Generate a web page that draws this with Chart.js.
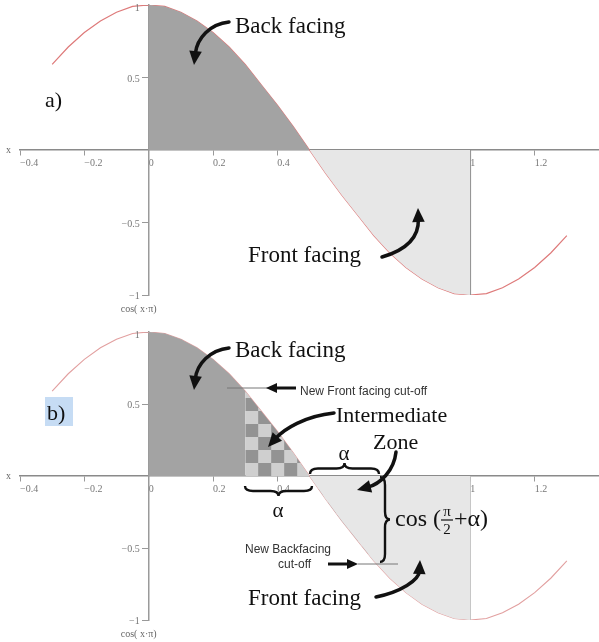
<!DOCTYPE html>
<html>
<head>
<meta charset="utf-8">
<script src="https://cdn.jsdelivr.net/npm/chart.js@4/dist/chart.umd.min.js"></script>
<style>
  body { margin: 0; background: #fff; }
  .panel { width: 599px; height: 321px; position: relative; }
</style>
</head>
<body>
<div class="panel"><canvas id="chart-a" width="599" height="321"></canvas></div>
<div class="panel"><canvas id="chart-b" width="599" height="321"></canvas></div>
<script>
// curve cos(x*pi)
const xValues = [-0.30, -0.25, -0.20, -0.15, -0.10, -0.05, 0.00, 0.05, 0.10, 0.15, 0.20,
  0.25, 0.30, 0.35, 0.40, 0.45, 0.50, 0.55, 0.60, 0.65, 0.70, 0.75, 0.80, 0.85, 0.90,
  0.95, 1.00, 1.05, 1.10, 1.15, 1.20, 1.25, 1.30];
const cosValues = [0.59, 0.71, 0.81, 0.89, 0.95, 0.99, 1.00, 0.99, 0.95, 0.89, 0.81,
  0.71, 0.59, 0.45, 0.31, 0.16, 0.00, -0.16, -0.31, -0.45, -0.59, -0.71, -0.81, -0.89, -0.95,
  -0.99, -1.00, -0.99, -0.95, -0.89, -0.81, -0.71, -0.59];

const xTicks = [-0.4, -0.2, 0, 0.2, 0.4, 0.6, 0.8, 1, 1.2];
const yTicks = [-1, -0.5, 0.5, 1];

// shaded x ranges
const backA = [0, 0.5];
const frontA = [0.5, 1];
const backB = [0, 0.3];
const frontB = [0.5, 1];
const zoneB = [0.3, 0.7];
const edgeLine = [{ x: 1, y: 0 }, { x: 1, y: -1 }];

const serif = '"Liberation Serif", "DejaVu Serif", serif';
const sans = '"Liberation Sans", Arial, sans-serif';

function pointsIn(range) {
  const pts = [];
  xValues.forEach((x, i) => {
    if (x >= range[0] - 1e-9 && x <= range[1] + 1e-9) pts.push({ x: x, y: cosValues[i] });
  });
  return pts;
}
const curve = xValues.map((x, i) => ({ x: x, y: cosValues[i] }));

// checker pattern for the intermediate zone
function makeChecker() {
  const c = document.createElement("canvas");
  c.width = 26; c.height = 26;
  const g = c.getContext("2d");
  g.fillStyle = "#cfcfcf"; g.fillRect(0, 0, 26, 26);
  g.fillStyle = "#939393";
  g.fillRect(0, 0, 13, 13); g.fillRect(13, 13, 13, 13);
  return g.createPattern(c, "repeat");
}
const checker = makeChecker();

function fmt(v) {
  return v < 0 ? "\u2212" + Math.abs(v) : String(v);
}

function scales() {
  return {
    x: {
      type: "linear", min: -0.4, max: 1.4,
      position: { y: 0 },
      afterBuildTicks: (s) => { s.ticks = xTicks.map((v) => ({ value: v })); },
      grid: { drawOnChartArea: false, tickLength: 5, color: "#999" },
      border: { color: "#8a8a8a", width: 1.5 },
      ticks: { align: "start", padding: 2, maxRotation: 0, autoSkip: false,
        color: "#777", font: { family: serif, size: 10 }, callback: (v) => fmt(v) }
    },
    y: {
      type: "linear", min: -1, max: 1,
      position: { x: 0 },
      afterBuildTicks: (s) => { s.ticks = yTicks.map((v) => ({ value: v })); },
      grid: { drawOnChartArea: false, tickLength: 6, color: "#999" },
      border: { color: "#9a9a9a", width: 1.5 },
      ticks: { display: false }
    }
  };
}

function txt(ctx, s, x, y, size, font, color, align) {
  ctx.font = size + "px " + (font || serif);
  ctx.fillStyle = color || "#111";
  ctx.textAlign = align || "left";
  ctx.textBaseline = "alphabetic";
  ctx.fillText(s, x, y);
}

function curvedArrow(ctx, p0, c1, c2, p1, head) {
  head = head || 14;
  const ang = Math.atan2(p1[1] - c2[1], p1[0] - c2[0]);
  const dx = Math.cos(ang), dy = Math.sin(ang);
  ctx.save();
  ctx.strokeStyle = "#111"; ctx.fillStyle = "#111";
  ctx.lineWidth = 3.5; ctx.lineCap = "round";
  ctx.beginPath();
  ctx.moveTo(p0[0], p0[1]);
  ctx.bezierCurveTo(c1[0], c1[1], c2[0], c2[1], p1[0] - dx * head * 0.8, p1[1] - dy * head * 0.8);
  ctx.stroke();
  ctx.beginPath();
  ctx.moveTo(p1[0], p1[1]);
  ctx.lineTo(p1[0] - dx * head - dy * head * 0.45, p1[1] - dy * head + dx * head * 0.45);
  ctx.lineTo(p1[0] - dx * head + dy * head * 0.45, p1[1] - dy * head - dx * head * 0.45);
  ctx.closePath();
  ctx.fill();
  ctx.restore();
}

function straightArrow(ctx, x0, x1, y) {
  const dir = Math.sign(x1 - x0);
  ctx.save();
  ctx.strokeStyle = "#111"; ctx.fillStyle = "#111"; ctx.lineWidth = 3;
  ctx.beginPath(); ctx.moveTo(x0, y); ctx.lineTo(x1 - dir * 8, y); ctx.stroke();
  ctx.beginPath();
  ctx.moveTo(x1, y); ctx.lineTo(x1 - dir * 11, y - 5); ctx.lineTo(x1 - dir * 11, y + 5);
  ctx.closePath(); ctx.fill();
  ctx.restore();
}

function thinLine(ctx, x0, y0, x1, y1) {
  ctx.save();
  ctx.strokeStyle = "#777"; ctx.lineWidth = 1;
  ctx.beginPath(); ctx.moveTo(x0, y0); ctx.lineTo(x1, y1); ctx.stroke();
  ctx.restore();
}

function brace(ctx, x1, y1, x2, y2, d) {
  const L = Math.hypot(x2 - x1, y2 - y1);
  const q = Math.min(8, L / 6);
  ctx.save();
  ctx.translate(x1, y1);
  ctx.rotate(Math.atan2(y2 - y1, x2 - x1));
  ctx.strokeStyle = "#111"; ctx.lineWidth = 2.4;
  ctx.beginPath();
  ctx.moveTo(0, 0);
  ctx.quadraticCurveTo(0, d / 2, q, d / 2);
  ctx.lineTo(L / 2 - q, d / 2);
  ctx.quadraticCurveTo(L / 2, d / 2, L / 2, d);
  ctx.quadraticCurveTo(L / 2, d / 2, L / 2 + q, d / 2);
  ctx.lineTo(L - q, d / 2);
  ctx.quadraticCurveTo(L, d / 2, L, 0);
  ctx.stroke();
  ctx.restore();
}

// axis names and y tick labels, placed through the scales
function axisNames(ctx, chart) {
  const ys = chart.scales.y, xs = chart.scales.x;
  const y0 = ys.getPixelForValue(0);
  const x0 = xs.getPixelForValue(0);
  txt(ctx, "x", 6, y0 + 3, 10, serif, "#666");
  txt(ctx, "cos( x\u00b7\u03c0)", x0 - 10, ys.getPixelForValue(-1) + 17, 10, serif, "#666", "center");
  yTicks.forEach((v) => {
    let py = ys.getPixelForValue(v) + 4;
    if (v === 1) py += 2;
    txt(ctx, fmt(v), x0 - 9, py, 10, serif, "#777", "right");
  });
}

const panelA = {
  id: "panelA",
  afterDraw(chart) {
    const ctx = chart.ctx;
    axisNames(ctx, chart);
    txt(ctx, "a)", 45, 107, 22, serif, "#111");
    txt(ctx, "Back facing", 235, 33, 23);
    curvedArrow(ctx, [229, 22], [210, 24], [197, 38], [194, 65]);
    txt(ctx, "Front facing", 248, 262, 23);
    curvedArrow(ctx, [382, 257], [406, 250], [419, 238], [418, 208]);
  }
};

const panelB = {
  id: "panelB",
  beforeDatasetsDraw(chart) {
    const px = chart.scales.x.getPixelForValue(zoneB[0]);
    const py = chart.scales.y.getPixelForValue(0);
    checker.setTransform(new DOMMatrix([1, 0, 0, 1, px, py]));
  },
  afterDraw(chart) {
    const ctx = chart.ctx;
    axisNames(ctx, chart);
    ctx.fillStyle = "#c6dcf4";
    ctx.fillRect(45, 76, 28, 29);
    txt(ctx, "b)", 47, 99, 22, serif, "#111");
    txt(ctx, "Back facing", 235, 36, 23);
    curvedArrow(ctx, [229, 27], [210, 29], [197, 43], [194, 69]);

    // front facing cut-off
    thinLine(ctx, 227, 67, 268, 67);
    straightArrow(ctx, 296, 266, 67);
    txt(ctx, "New Front facing cut-off", 300, 74, 12, sans, "#333");

    txt(ctx, "Intermediate", 336, 101, 22);
    curvedArrow(ctx, [334, 92], [305, 95], [284, 108], [268, 126]);
    txt(ctx, "Zone", 373, 128, 22);
    curvedArrow(ctx, [396, 131], [394, 150], [380, 163], [357, 169]);

    brace(ctx, 310, 153, 379, 153, -11);
    txt(ctx, "\u03b1", 344, 139, 21, serif, "#111", "center");
    brace(ctx, 245, 165, 312, 165, 10);
    txt(ctx, "\u03b1", 278, 196, 21, serif, "#111", "center");

    brace(ctx, 380, 156, 380, 241, -10);
    ctx.font = "24px " + serif;
    let x = 395;
    txt(ctx, "cos (", x, 205, 24);
    x += ctx.measureText("cos (").width;
    txt(ctx, "\u03c0", x + 6, 195, 15, serif, "#111", "center");
    ctx.save(); ctx.strokeStyle = "#111"; ctx.lineWidth = 1.2;
    ctx.beginPath(); ctx.moveTo(x, 199); ctx.lineTo(x + 12, 199); ctx.stroke(); ctx.restore();
    txt(ctx, "2", x + 6, 213, 15, serif, "#111", "center");
    txt(ctx, "+\u03b1)", x + 13, 205, 24);

    // back facing cut-off
    txt(ctx, "New Backfacing", 245, 232, 12, sans, "#333");
    txt(ctx, "cut-off", 278, 247, 12, sans, "#333");
    straightArrow(ctx, 328, 358, 243);
    thinLine(ctx, 358, 243, 398, 243);

    txt(ctx, "Front facing", 248, 284, 23);
    curvedArrow(ctx, [376, 276], [401, 271], [419, 259], [420, 239]);
  }
};

function fillSet(points, color) {
  return { data: points, fill: "origin", backgroundColor: color, borderWidth: 0, pointRadius: 0 };
}

new Chart(document.getElementById("chart-a"), {
  type: "line",
  data: {
    datasets: [
      fillSet(pointsIn(backA), "#a3a3a3"),
      fillSet(pointsIn(frontA), "#e7e7e7"),
      { data: edgeLine, borderColor: "#8c8c8c", borderWidth: 1.5, pointRadius: 0, fill: false },
      { data: curve, borderColor: "#de7a7a", borderWidth: 1.2, pointRadius: 0, fill: false, tension: 0 }
    ]
  },
  options: {
    responsive: false, animation: false, devicePixelRatio: 1,
    layout: { padding: { top: 5, bottom: 26, left: 20, right: 0 } },
    plugins: { legend: { display: false }, tooltip: { enabled: false } },
    scales: scales()
  },
  plugins: [panelA]
});

new Chart(document.getElementById("chart-b"), {
  type: "line",
  data: {
    datasets: [
      fillSet(pointsIn(frontB), "#e7e7e7"),
      fillSet(pointsIn(backB), "#a3a3a3"),
      fillSet(pointsIn(zoneB), checker),
      { data: edgeLine, borderColor: "#bdbdbd", borderWidth: 1.2, pointRadius: 0, fill: false },
      { data: curve, borderColor: "#e2a0a0", borderWidth: 1.1, pointRadius: 0, fill: false, tension: 0 }
    ]
  },
  options: {
    responsive: false, animation: false, devicePixelRatio: 1,
    layout: { padding: { top: 11, bottom: 22, left: 20, right: 0 } },
    plugins: { legend: { display: false }, tooltip: { enabled: false } },
    scales: scales()
  },
  plugins: [panelB]
});
</script>
</body>
</html>
